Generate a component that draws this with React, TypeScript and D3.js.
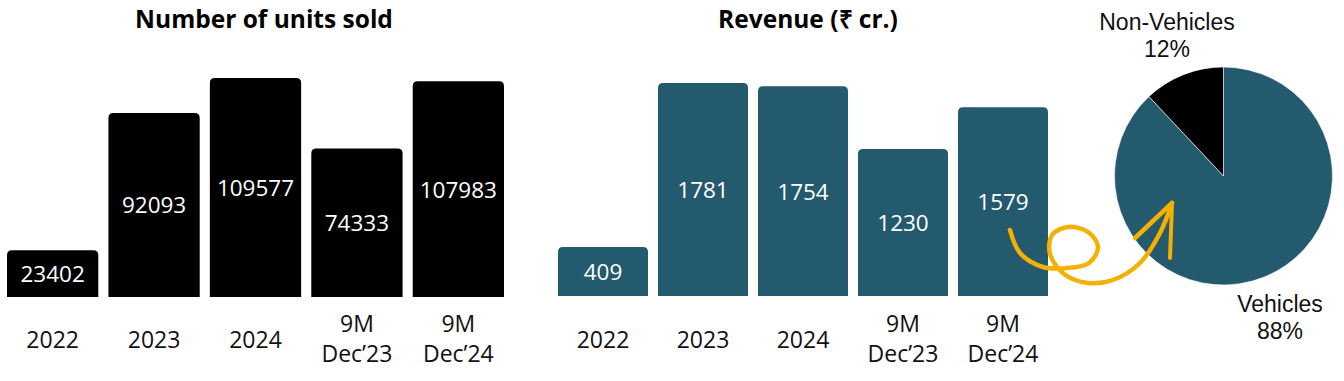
import React from "react";
import * as d3 from "d3";

const categories = ["2022", "2023", "2024", "9M\nDec’23", "9M\nDec’24"];
const unitsSold = [23402, 92093, 109577, 74333, 107983];
const revenue = [409, 1781, 1754, 1230, 1579];
const pieLabels = ["Vehicles", "Non-Vehicles"];
const pieValues = [88, 12];

const W = 1344;
const H = 381;
const TEAL = "#245a6e";
const YELLOW = "#f5b000";
const FONT = "'Open Sans', sans-serif";

function topRoundedRect(x: number, y: number, w: number, h: number, r: number) {
  const rr = Math.min(r, h / 2, w / 2);
  return `M${x},${y + h}V${y + rr}Q${x},${y} ${x + rr},${y}H${x + w - rr}Q${x + w},${y} ${x + w},${y + rr}V${y + h}Z`;
}

function BarChart({ title, values, color, x0, x1, yBase, yTop, maxVal, titleX }: any) {
  const x = d3.scaleBand<string>().domain(categories).range([x0, x1]).paddingInner(0.1).paddingOuter(0);
  const y = d3.scaleLinear().domain([0, maxVal]).range([yBase, yTop]);
  return (
    <g>
      <text x={titleX} y={18} textAnchor="middle" dominantBaseline="central" fontFamily={FONT} fontWeight={700} fontSize={24.5} fill="#000">
        {title}
      </text>
      {values.map((v: number, i: number) => {
        const c = categories[i];
        const bx = x(c)!;
        const bw = x.bandwidth();
        const top = y(v);
        const lines = c.split("\n");
        return (
          <g key={c}>
            <path d={topRoundedRect(bx, top, bw, yBase - top, 5)} fill={color} />
            <text x={bx + bw / 2} y={(top + yBase) / 2} textAnchor="middle" dominantBaseline="central" fontFamily={FONT} fontSize={22.5} fill="#fff">
              {v}
            </text>
            {lines.length === 1 ? (
              <text x={bx + bw / 2} y={339} textAnchor="middle" dominantBaseline="central" fontFamily={FONT} fontSize={23} fill="#111">
                {lines[0]}
              </text>
            ) : (
              lines.map((l, j) => (
                <text key={j} x={bx + bw / 2} y={323 + j * 30} textAnchor="middle" dominantBaseline="central" fontFamily={FONT} fontSize={23} fill="#111">
                  {l}
                </text>
              ))
            )}
          </g>
        );
      })}
    </g>
  );
}

// hand-drawn arrow annotation (decorative), expressed relative to its origin
const arrowPath: [number, number][] = [
  [0, 0], [10, 23], [33, 37], [57, 38], [79, 33], [88, 17], [78, 2], [58, -3], [42, 5],
  [40, 24], [54, 44], [78, 53], [103, 50], [130, 33], [150, 3], [162, -27],
];

export default function App() {
  const pie = d3.pie<number>().sort(null)(pieValues);
  const arc = d3.arc<d3.PieArcDatum<number>>().innerRadius(0).outerRadius(109);
  const cx = 1223.5;
  const cy = 176;
  const line = d3.line().curve(d3.curveCatmullRom.alpha(0.5));
  const ax = 1010;
  const ay = 230;
  const PF = "'Liberation Sans', Arial, sans-serif";
  return (
    <svg width={W} height={H} style={{ position: "absolute", left: 0, top: 0, background: "#fff" }}>
      <BarChart title="Number of units sold" values={unitsSold} color="#000" x0={7} x1={504} yBase={297} yTop={78} maxVal={109577} titleX={264} />
      <BarChart title="Revenue (₹ cr.)" values={revenue} color={TEAL} x0={558} x1={1048} yBase={296} yTop={83} maxVal={1781} titleX={808} />
      <g transform={`translate(${cx},${cy})`}>
        {pie.map((d, i) => (
          <path key={i} d={arc(d)!} fill={i === 0 ? TEAL : "#000"} stroke="#fff" strokeWidth={0.6} />
        ))}
      </g>
      <text x={1167} y={22} textAnchor="middle" dominantBaseline="central" fontFamily={PF} fontSize={23} fill="#111">{pieLabels[1]}</text>
      <text x={1167} y={49} textAnchor="middle" dominantBaseline="central" fontFamily={PF} fontSize={23} fill="#111">{pieValues[1]}%</text>
      <text x={1280} y={304} textAnchor="middle" dominantBaseline="central" fontFamily={PF} fontSize={23} fill="#111">{pieLabels[0]}</text>
      <text x={1280} y={331} textAnchor="middle" dominantBaseline="central" fontFamily={PF} fontSize={23} fill="#111">{pieValues[0]}%</text>
      <g transform={`translate(${ax},${ay})`} fill="none" stroke={YELLOW} strokeLinecap="round" strokeLinejoin="round">
        <path d={line(arrowPath)!} strokeWidth={4.5} />
        <path d={`M162,-27L125,8`} strokeWidth={4.5} />
        <path d={`M162,-27L160,28`} strokeWidth={4} />
      </g>
    </svg>
  );
}
